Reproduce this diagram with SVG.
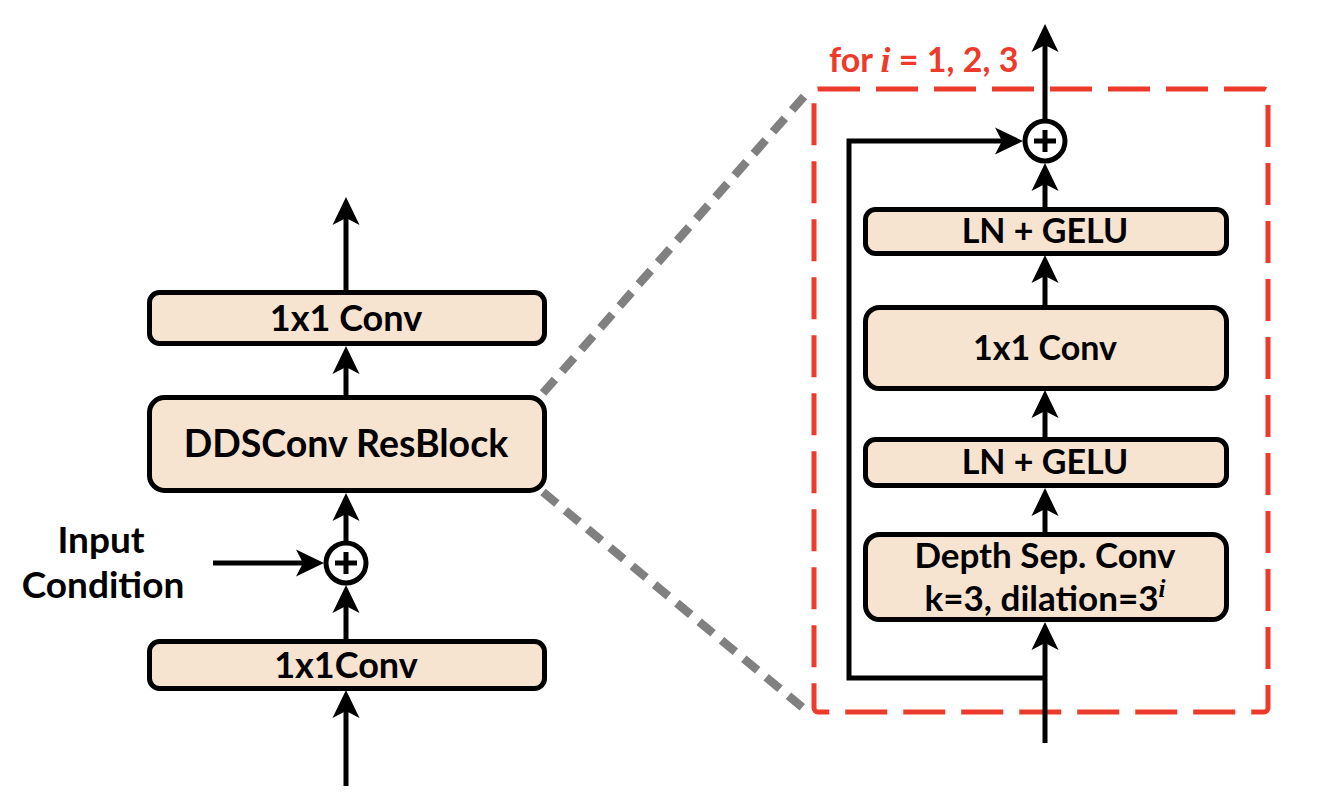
<svg xmlns="http://www.w3.org/2000/svg" width="1337" height="801" viewBox="0 0 1337 801">
<style>
.box{fill:#f6e4d0;stroke:#000;stroke-width:5}
.lbl{font-family:Lato,"Open Sans","Liberation Sans",sans-serif;font-weight:700;fill:#000;text-anchor:middle}
.ln{fill:none;stroke:#000;stroke-width:5}
.arr{fill:none;stroke:#000;stroke-width:5;marker-end:url(#ah)}
.sum{fill:#fff;stroke:#000;stroke-width:5}
.math{font-family:"Liberation Serif","DejaVu Serif",serif;font-style:italic;font-weight:700}
</style>
<defs>
<marker id="ah" viewBox="-30 -16 32 32" refX="-10" refY="0" markerWidth="32" markerHeight="32" markerUnits="userSpaceOnUse" orient="auto">
<path d="M0,0 L-28,-13.5 L-21,0 L-28,13.5 z" fill="#000"/>
</marker>
</defs>
<rect width="1337" height="801" fill="#fff"/>

<g id="zoom-lines" fill="none" stroke="#808080" stroke-width="8.5" stroke-dasharray="18 11">
<line x1="543" y1="393" x2="808" y2="92"/>
<line x1="543" y1="492" x2="808" y2="712"/>
</g>

<g id="loop-frame">
<rect x="814" y="89" width="454" height="623" rx="4" fill="none" stroke="#ee3a2a" stroke-width="5" stroke-dasharray="42 16"/>
<text x="829" y="72" font-family="Lato,'Open Sans','Liberation Sans',sans-serif" font-weight="700" font-size="34" fill="#ee3a2a">for <tspan class="math" font-size="36">i</tspan> = 1, 2, 3</text>
</g>

<g id="connectors">
<!-- left column -->
<line class="arr" x1="346" y1="290" x2="346" y2="207"/>
<line class="arr" x1="346" y1="395" x2="346" y2="356"/>
<line class="arr" x1="346" y1="541" x2="346" y2="503"/>
<line class="arr" x1="213" y1="563" x2="314" y2="563"/>
<line class="arr" x1="346" y1="639" x2="346" y2="595"/>
<line class="arr" x1="346" y1="786" x2="346" y2="700"/>
<!-- right column -->
<line class="arr" x1="1045" y1="119" x2="1045" y2="34"/>
<line class="arr" x1="1045" y1="207" x2="1045" y2="173"/>
<line class="arr" x1="1045" y1="305" x2="1045" y2="265"/>
<line class="arr" x1="1045" y1="437" x2="1045" y2="400"/>
<line class="arr" x1="1045" y1="532" x2="1045" y2="498"/>
<line class="arr" x1="1045" y1="743" x2="1045" y2="632"/>
<path class="arr" d="M1045,678 H849 V141 H1013"/>
</g>

<g id="sum-left">
<circle class="sum" cx="346" cy="563" r="20"/>
<path d="M335,563 H357 M346,552 V574" stroke="#000" stroke-width="5"/>
</g>
<g id="sum-right">
<circle class="sum" cx="1045" cy="141" r="20"/>
<path d="M1034,141 H1056 M1045,130 V152" stroke="#000" stroke-width="5"/>
</g>

<g id="input-condition">
<text class="lbl" x="101" y="553" font-size="37">Input</text>
<text class="lbl" x="103" y="598" font-size="37">Condition</text>
</g>

<g id="conv-out">
<rect class="box" x="149.5" y="292.5" width="395" height="51" rx="10"/>
<text class="lbl" x="346" y="331" font-size="36">1x1 Conv</text>
</g>
<g id="ddsconv-resblock">
<rect class="box" x="149.5" y="397.5" width="395" height="93" rx="15"/>
<text class="lbl" x="346" y="457" font-size="37.5">DDSConv ResBlock</text>
</g>
<g id="conv-in">
<rect class="box" x="149.5" y="641.5" width="395" height="47" rx="10"/>
<text class="lbl" x="346" y="678" font-size="36">1x1Conv</text>
</g>

<g id="ln-gelu-2">
<rect class="box" x="865.5" y="209.5" width="361" height="44" rx="10"/>
<text class="lbl" x="1045" y="243" font-size="34">LN + GELU</text>
</g>
<g id="pw-conv">
<rect class="box" x="865.5" y="307.5" width="361" height="81" rx="14"/>
<text class="lbl" x="1045" y="360" font-size="34">1x1 Conv</text>
</g>
<g id="ln-gelu-1">
<rect class="box" x="865.5" y="439.5" width="361" height="46" rx="10"/>
<text class="lbl" x="1045" y="474" font-size="34">LN + GELU</text>
</g>
<g id="depth-sep-conv">
<rect class="box" x="865.5" y="534.5" width="361" height="85" rx="14"/>
<text class="lbl" x="1045" y="568" font-size="35">Depth Sep. Conv</text>
<text class="lbl" x="1045" y="611" font-size="35">k=3, dilation=3<tspan class="math" font-size="25" dy="-14">i</tspan></text>
</g>
</svg>
